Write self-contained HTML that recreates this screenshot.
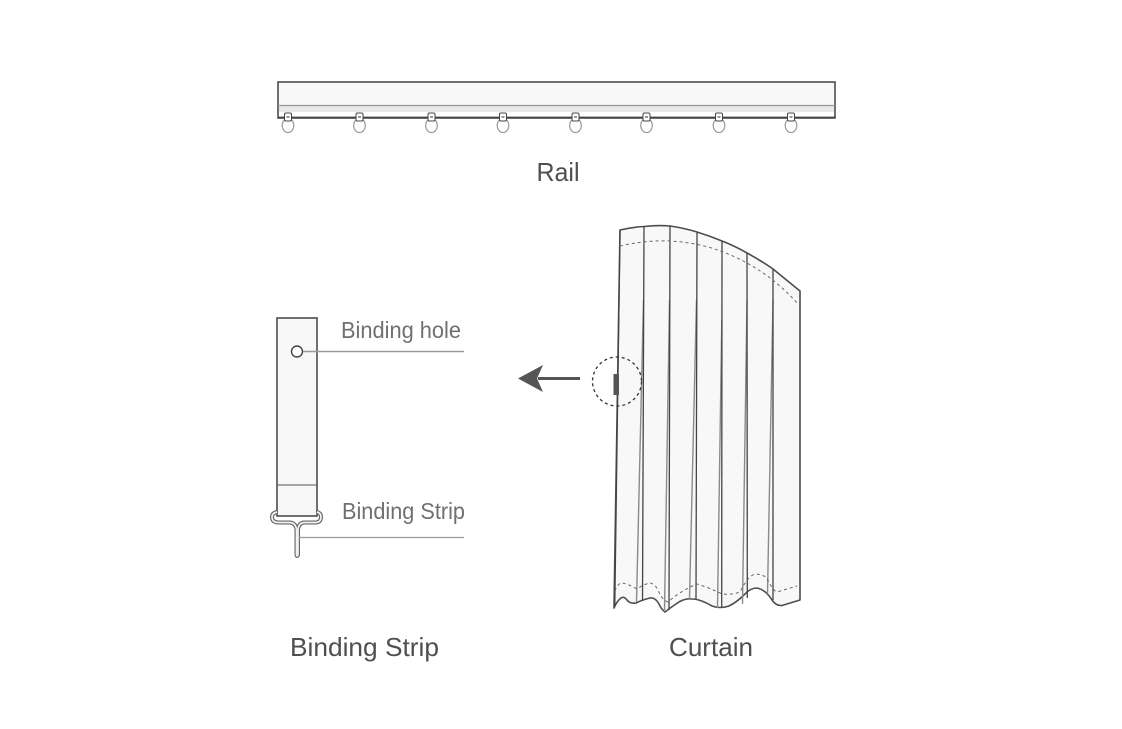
<!DOCTYPE html>
<html><head><meta charset="utf-8"><style>html,body{margin:0;padding:0;background:#fff}svg{display:block}text{font-family:"Liberation Sans",sans-serif;fill:#4f4f4f}</style></head>
<body>
<svg width="1122" height="729" viewBox="0 0 1122 729" xmlns="http://www.w3.org/2000/svg">
<!-- Rail -->
<rect x="278" y="82" width="557" height="36" fill="#f8f8f8" stroke="#4d4d4d" stroke-width="1.600"/>
<rect x="279" y="106" width="555" height="6" fill="#e8e8e8"/>
<rect x="279" y="112" width="555" height="5" fill="#fff"/>
<line x1="278" y1="105.500" x2="835" y2="105.500" stroke="#999" stroke-width="1.300"/>
<line x1="278" y1="117.500" x2="835" y2="117.500" stroke="#444" stroke-width="1.800"/>
<g>
<g id="h"><ellipse cx="288" cy="125.500" rx="5.800" ry="7" fill="none" stroke="#999" stroke-width="1.200"/><rect x="284.500" y="113" width="7" height="8" rx="1.500" fill="#fff" stroke="#444" stroke-width="1"/><line x1="286.500" y1="117" x2="289.500" y2="117" stroke="#555" stroke-width="1.200"/></g>
<use href="#h" x="71.500"/><use href="#h" x="143.500"/><use href="#h" x="215"/><use href="#h" x="287.500"/><use href="#h" x="358.500"/><use href="#h" x="431"/><use href="#h" x="503"/>
</g>
<text x="558" y="181" font-size="26" text-anchor="middle" textLength="43" lengthAdjust="spacingAndGlyphs">Rail</text>
<!-- Binding strip -->
<rect x="277" y="318" width="40" height="198" fill="#f8f8f8" stroke="#4d4d4d" stroke-width="1.600"/>
<line x1="277" y1="485" x2="317" y2="485" stroke="#555" stroke-width="1"/>
<circle cx="297" cy="351.500" r="5.500" fill="#fff" stroke="#444" stroke-width="1.400"/>
<line x1="303" y1="351.500" x2="464" y2="351.500" stroke="#999" stroke-width="1.400"/>
<text x="341" y="338" font-size="23" style="fill:#707070" textLength="120" lengthAdjust="spacingAndGlyphs">Binding hole</text>
<path d="M277 512Q272 513 272 517Q272 522 278 522.500H290Q296 523 296.500 530V555Q297 557 298 555V530Q298.500 523 304 522.500H316Q321 522 321 517Q321 513 317 512" fill="none" stroke="#666" stroke-width="4"/>
<path d="M277 512Q272 513 272 517Q272 522 278 522.500H290Q296 523 296.500 530V555Q297 557 298 555V530Q298.500 523 304 522.500H316Q321 522 321 517Q321 513 317 512" fill="none" stroke="#f2f2f2" stroke-width="1.700"/>
<line x1="299" y1="537.500" x2="464" y2="537.500" stroke="#999" stroke-width="1.200"/>
<text x="342" y="519" font-size="23" style="fill:#707070" textLength="123" lengthAdjust="spacingAndGlyphs">Binding Strip</text>
<text x="290" y="656" font-size="26" textLength="149" lengthAdjust="spacingAndGlyphs">Binding Strip</text>
<!-- Arrow -->
<line x1="538" y1="378.500" x2="580" y2="378.500" stroke="#555" stroke-width="3"/>
<path d="M518 378.500L543 365L537 378.500L543 392Z" fill="#555"/>
<!-- Curtain -->
<path d="M620 230Q633 227 644 226.500Q658 225 670 226Q684 228 697 232Q710 236 722 241Q735 246 747 253Q760 260 773 269L800 291V600L782 605.500Q776 606 772 600Q766 590 757 588Q750 588 744 595Q737 602 729 606Q720 609 712 606Q700 599 692 599Q684 598 676 604Q670 608 665 612Q661 609 659 604Q655 597 650 598Q642 600 636 603Q630 604 627 600Q624 596 621 598Q617 601 614 608Z" fill="#f8f8f8" stroke="#4d4d4d" stroke-width="1.600" stroke-linejoin="round"/>
<g fill="none" stroke="#8a8a8a" stroke-width="1.400">
<path d="M643.500 300L636.500 602"/>
<path d="M669.500 300L664.500 610"/>
<path d="M696.500 300L689.500 599"/>
<path d="M721.800 320L717.500 608"/>
<path d="M747 300L742.500 604"/>
<path d="M773 300L767.500 594"/>
</g>
<g fill="none" stroke="#444" stroke-width="1.300">
<path d="M620 230L614.800 606"/>
<path d="M644 226.500L642.500 601"/>
<path d="M670 226L669 610"/>
<path d="M697 232L696 599"/>
<path d="M722 241L721.700 607"/>
<path d="M747 253L747.300 598"/>
<path d="M773 269L773 600"/>
</g>
<g fill="none" stroke="#666" stroke-width="1" stroke-dasharray="3 3">
<path d="M620 246Q645 240 670 241Q710 243 745 262Q775 278 798 304"/>
<path d="M615 591Q618 583 622 583Q628 584 637 589Q644 584 650 583Q655 584 658 590Q662 600 668 602Q682 590 697 584Q710 588 722 594Q732 595 740 592Q748 576 755 574Q762 574 767 578Q772 590 777 592L797 586"/>
</g>
<rect x="613.500" y="374" width="5.500" height="21" fill="#555"/>
<circle cx="617" cy="381.500" r="24.500" fill="none" stroke="#333" stroke-width="1.300" stroke-dasharray="3 3"/>
<text x="711" y="656" font-size="26" text-anchor="middle" textLength="84" lengthAdjust="spacingAndGlyphs">Curtain</text>
</svg>
</body></html>
